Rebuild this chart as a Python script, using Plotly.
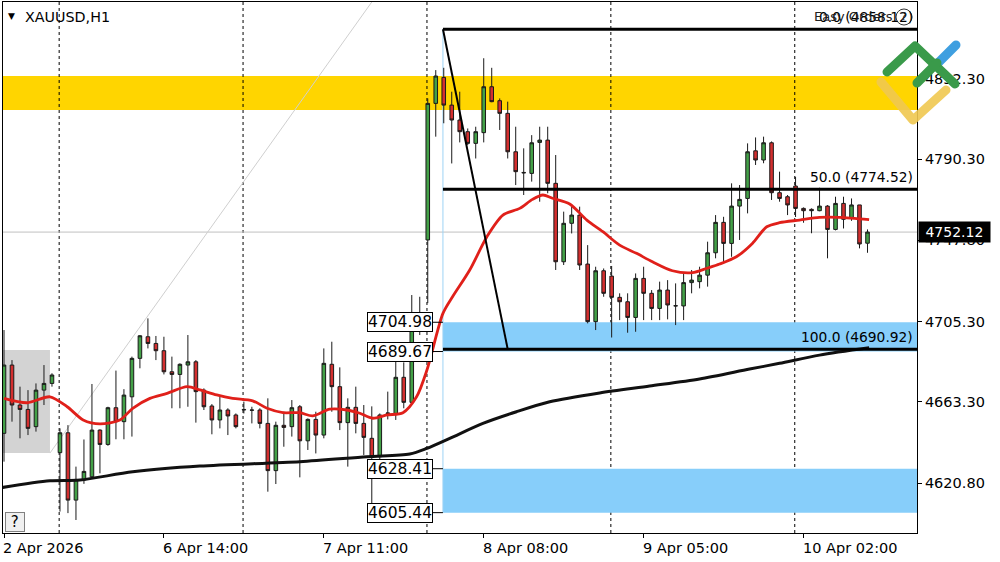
import base64
import plotly.graph_objects as go

# ---------------- data ----------------
bar_index = list(range(109))
opens = [4646.9, 4682.6, 4661.7, 4659.4, 4650.4, 4669.5, 4673.0,
         4636.8, 4647.2, 4612.0, 4622.5, 4624.2, 4648.6, 4641.1, 4660.3, 4653.0, 4666.0, 4686.1, 4697.4, 4693.9,
         4690.1, 4679.1, 4677.7, 4682.6, 4684.3, 4669.5, 4661.2, 4653.9, 4659.1, 4656.5,
         4659.4, 4659.1, 4659.1, 4652.1, 4627.4, 4651.1, 4650.4, 4660.8, 4643.0, 4654.2, 4646.0, 4683.0, 4671.3,
         4652.5, 4660.5, 4652.1, 4644.3, 4634.7, 4657.3, 4657.3, 4676.2, 4663.1, 4702.6,
         4748.0, 4819.4, 4833.0, 4818.5, 4810.7, 4804.6, 4798.5, 4804.1, 4828.1, 4820.8, 4814.2, 4794.1, 4783.3,
         4782.8, 4799.0, 4800.2, 4777.6, 4736.6, 4756.7, 4761.0, 4735.4, 4705.3, 4731.9,
         4729.1, 4718.0, 4715.7, 4707.5, 4727.9, 4720.1, 4712.2, 4721.8, 4713.5, 4713.5, 4725.7, 4726.2, 4729.6,
         4741.3, 4757.2, 4746.2, 4765.7, 4769.7, 4794.6, 4789.8, 4798.8, 4772.7, 4770.6,
         4776.2, 4764.5, 4764.0, 4763.3, 4765.7, 4753.5, 4767.1, 4759.7, 4766.3, 4746.3]
highs = [4700.9, 4685.2, 4671.3, 4669.5, 4673.0, 4682.6, 4678.3,
         4649.5, 4651.2, 4629.5, 4643.7, 4672.7, 4649.0, 4660.8, 4679.7, 4670.0, 4687.0, 4698.3, 4707.0, 4697.8,
         4697.4, 4687.0, 4683.5, 4698.3, 4685.2, 4670.4, 4662.2, 4666.9, 4660.0, 4657.3,
         4663.5, 4660.8, 4660.0, 4665.2, 4653.0, 4658.2, 4664.3, 4661.7, 4654.7, 4658.2, 4691.3, 4694.8, 4681.4,
         4665.2, 4671.3, 4661.7, 4661.0, 4657.3, 4668.7, 4687.0, 4684.0, 4719.2, 4718.3,
         4822.0, 4836.8, 4838.0, 4825.5, 4825.5, 4806.3, 4807.2, 4843.0, 4838.0, 4822.0, 4820.3, 4807.2, 4795.9,
         4802.8, 4807.2, 4807.2, 4792.4, 4762.8, 4765.4, 4765.4, 4745.3, 4734.0, 4733.1,
         4734.4, 4720.1, 4720.1, 4730.5, 4734.0, 4721.8, 4726.2, 4727.0, 4725.3, 4730.5, 4732.3, 4734.0, 4747.1,
         4761.0, 4760.1, 4777.6, 4776.7, 4798.5, 4801.6, 4802.0, 4799.5, 4783.7, 4771.5,
         4781.0, 4765.0, 4764.5, 4775.3, 4766.2, 4770.6, 4770.6, 4769.7, 4766.3, 4753.5]
lows = [4632.1, 4653.0, 4644.3, 4646.0, 4647.8, 4661.7, 4671.3,
        4606.0, 4605.2, 4601.6, 4620.5, 4623.4, 4626.0, 4640.4, 4643.8, 4643.8, 4645.2, 4680.9, 4691.3, 4685.2,
        4677.7, 4660.0, 4660.0, 4660.8, 4652.5, 4659.1, 4646.4, 4649.5, 4646.0, 4649.5,
        4657.3, 4652.1, 4649.5, 4616.4, 4620.4, 4639.9, 4645.2, 4623.9, 4638.2, 4636.4, 4644.3, 4658.2, 4648.6,
        4629.5, 4646.9, 4635.6, 4605.44, 4633.0, 4654.2, 4653.9, 4660.0, 4662.5, 4698.3,
        4715.0, 4802.0, 4809.0, 4788.0, 4799.0, 4797.6, 4790.6, 4799.0, 4820.0, 4805.5, 4790.6, 4776.7, 4771.5,
        4778.5, 4768.0, 4772.4, 4732.3, 4734.9, 4751.4, 4732.3, 4704.4, 4700.9, 4718.3,
        4697.0, 4706.1, 4699.5, 4700.0, 4706.1, 4706.1, 4706.1, 4706.5, 4703.5, 4706.1, 4720.1, 4722.7, 4723.6,
        4738.4, 4735.8, 4739.2, 4748.0, 4761.9, 4787.2, 4788.1, 4768.9, 4768.0, 4761.0,
        4760.0, 4757.0, 4751.5, 4763.0, 4738.4, 4753.0, 4754.0, 4758.0, 4743.6, 4741.3]
closes = [4682.6, 4661.7, 4659.4, 4649.5, 4669.5, 4673.0, 4677.4,
          4647.2, 4612.0, 4622.8, 4627.0, 4648.6, 4641.1, 4660.3, 4653.0, 4666.9, 4686.1, 4697.9, 4693.9, 4690.1,
          4679.1, 4677.7, 4683.0, 4684.3, 4668.7, 4660.8, 4653.9, 4659.1, 4656.0, 4650.4,
          4659.2, 4659.0, 4652.1, 4627.4, 4651.1, 4650.0, 4660.3, 4643.0, 4654.2, 4646.0, 4683.5, 4671.3, 4652.5,
          4660.5, 4652.1, 4644.8, 4634.7, 4656.5, 4657.5, 4676.2, 4663.1, 4701.2, 4706.5,
          4819.4, 4833.7, 4818.5, 4810.7, 4804.6, 4798.5, 4804.6, 4828.1, 4820.3, 4814.2, 4794.1, 4783.7, 4783.1,
          4798.8, 4800.2, 4777.6, 4736.6, 4756.7, 4761.0, 4734.9, 4705.3, 4731.9, 4720.1,
          4718.0, 4715.7, 4707.5, 4727.9, 4720.1, 4712.2, 4721.8, 4714.0, 4713.6, 4725.7, 4727.0, 4729.6, 4741.3,
          4757.2, 4746.2, 4765.7, 4769.2, 4794.1, 4789.8, 4798.8, 4772.7, 4769.7, 4766.3,
          4764.5, 4763.3, 4763.3, 4765.7, 4753.5, 4767.1, 4758.8, 4766.3, 4745.9, 4752.12]

# moving averages (bar index, price)
ma_fast_x = [0, 2.9, 5.75, 7.9, 9.9, 12, 14.5, 16.1, 18.25, 20.4, 22.9, 24.5, 26.6, 28.6, 31.1, 32.9, 34.9,
             37, 38.6, 40.75, 42.9, 44.5, 46.1, 47.9, 49.9, 51.6, 52.9, 54.9, 56.1, 58.25, 60.4, 62.4, 64.5,
             66.1, 67.4, 68.6, 70.75, 72.9, 74.9, 77, 79.1, 81.1, 83.6, 86.1, 87.9, 89.5, 91.6, 93.6, 95.4,
             97, 99.5, 102, 104.5, 108.2]
ma_fast_y = [4665.2, 4662.9, 4666.0, 4660.8, 4653.9, 4651.8, 4653.9, 4660.0, 4665.2, 4667.8, 4671.3, 4669.6,
             4667.0, 4665.2, 4663.9, 4660.0, 4657.7, 4657.7, 4656.0, 4659.5, 4659.1, 4657.4, 4654.8, 4656.5,
             4657.7, 4666.0, 4680.0, 4709.6, 4718.3, 4732.3, 4749.7, 4761.0, 4764.5, 4769.2, 4771.5, 4769.8,
             4766.8, 4758.4, 4752.3, 4745.3, 4741.0, 4736.6, 4731.9, 4730.9, 4733.2, 4735.4, 4739.2, 4746.2,
             4754.9, 4757.0, 4758.4, 4759.8, 4759.8, 4758.6]
ma_slow_x = [-0.2, 5.75, 9.5, 16.1, 24.5, 37, 45.4, 50.75, 52.9, 55.75, 59.9, 64.1, 68.25, 74.5, 80.75, 87,
             93.25, 97, 102, 108.2]
ma_slow_y = [4618.6, 4622.1, 4622.5, 4626.8, 4629.8, 4632.1, 4634.7, 4636.1, 4639.1, 4644.3, 4652.1, 4658.2,
             4663.4, 4668.0, 4671.6, 4675.3, 4680.5, 4683.5, 4687.8, 4691.6]

tick_index = [0, 20, 40, 60, 80, 100]
tick_labels = ["2 Apr 2026", "6 Apr 14:00", "7 Apr 11:00", "8 Apr 08:00", "9 Apr 05:00", "10 Apr 02:00"]
day_start_index = [7, 30, 53, 76, 99]

price_ticks = [4832.30, 4790.30, 4747.80, 4705.30, 4663.30, 4620.80]
price_tick_labels = ["4832.30", "4790.30", "4747.80", "4705.30", "4663.30", "4620.80"]

resistance_zone = [4815.9, 4833.7]
support_zones = [[4689.67, 4704.98], [4605.44, 4628.41]]
zone_labels = [4704.98, 4689.67, 4628.41, 4605.44]
fib_levels = ["0.0", "50.0", "100.0"]
fib_prices = [4858.12, 4774.52, 4690.92]
last_price = 4752.12
symbol = "XAUUSD,H1"

# ---------------- geometry helpers ----------------
W, H = 1000, 562
ML, MR, MT, MB = 3, 83, 2, 29
X_RANGE = [-0.125, 114.19]
Y_RANGE = [4594.8, 4872.4]
PW, PH = W - ML - MR, H - MT - MB


def px(x):
    return (x - ML) / PW


def py(y):
    return (H - MB - y) / PH


FONT = "DejaVu Sans"
fib_x0 = 54.9      # anchor bar of the fibonacci / zones
trend_x1 = 63.0
label_x = 53.6

fig = go.Figure()

fig.add_trace(go.Candlestick(
    x=bar_index, open=opens, high=highs, low=lows, close=closes,
    increasing=dict(fillcolor="#43A047", line=dict(color="#1a1a1a", width=1)),
    decreasing=dict(fillcolor="#D32F2F", line=dict(color="#1a1a1a", width=1)),
    whiskerwidth=0, hoverinfo="skip", showlegend=False,
))
fig.add_trace(go.Scatter(x=ma_slow_x, y=ma_slow_y, mode="lines",
                         line=dict(color="#111111", width=3, shape="spline", smoothing=0.8),
                         hoverinfo="skip", showlegend=False))
fig.add_trace(go.Scatter(x=ma_fast_x, y=ma_fast_y, mode="lines",
                         line=dict(color="#E0201A", width=2.8, shape="spline", smoothing=0.8),
                         hoverinfo="skip", showlegend=False))

shapes = []
# resistance zone (yellow)
shapes.append(dict(type="rect", xref="paper", yref="y", x0=0, x1=1,
                   y0=resistance_zone[0], y1=resistance_zone[1],
                   fillcolor="#FFD500", line=dict(width=0), layer="below"))
# support zones (blue)
for lo, hi in support_zones:
    shapes.append(dict(type="rect", xref="x", yref="y", x0=fib_x0, x1=X_RANGE[1], y0=lo, y1=hi,
                       fillcolor="#87CEFA", line=dict(width=0), layer="below"))
# grey selection rectangle + thin diagonal
shapes.append(dict(type="rect", xref="x", yref="y", x0=X_RANGE[0], x1=5.75, y0=4636.6, y1=4690.5,
                   fillcolor="#D3D3D3", line=dict(width=0), layer="below"))
shapes.append(dict(type="line", xref="x", yref="y", x0=5.75, y0=4636.6, x1=46.0, y1=Y_RANGE[1],
                   line=dict(color="#CFCFCF", width=1), layer="below"))
# day separators
for d in day_start_index:
    shapes.append(dict(type="line", xref="x", yref="paper", x0=d - 0.1, x1=d - 0.1, y0=0, y1=1,
                       line=dict(color="#000000", width=1, dash="3px,3px"), layer="below"))
# bid line
shapes.append(dict(type="line", xref="paper", yref="y", x0=0, x1=1, y0=last_price, y1=last_price,
                   line=dict(color="#C0C0C0", width=1), layer="below"))
# vertical light-blue line of the fib object
shapes.append(dict(type="line", xref="x", yref="y", x0=fib_x0, x1=fib_x0, y0=support_zones[1][0],
                   y1=fib_prices[0], line=dict(color="#9ED3F5", width=1), layer="below"))
# fib levels
for p in fib_prices:
    shapes.append(dict(type="line", xref="x", yref="y", x0=fib_x0, x1=X_RANGE[1], y0=p, y1=p,
                       line=dict(color="#000000", width=3), layer="above"))
# fib trend line
shapes.append(dict(type="line", xref="x", yref="y", x0=fib_x0, y0=fib_prices[0], x1=trend_x1, y1=fib_prices[2],
                   line=dict(color="#000000", width=2), layer="above"))
# leader lines of the price boxes
for p in zone_labels:
    shapes.append(dict(type="line", xref="x", yref="y", x0=label_x, x1=fib_x0, y0=p, y1=p,
                       line=dict(color="#000000", width=1), layer="above"))

annotations = []
# symbol
annotations.append(dict(xref="paper", yref="paper", x=px(6), y=py(16), xanchor="left", yanchor="middle",
                        text="▼", showarrow=False, font=dict(family=FONT, size=9, color="#000")))
annotations.append(dict(xref="paper", yref="paper", x=px(23), y=py(17), xanchor="left", yanchor="middle",
                        text=symbol, showarrow=False, font=dict(family=FONT, size=14.3, color="#000")))
# x labels (left aligned at tick)
for t, lab in zip(tick_index, tick_labels):
    annotations.append(dict(xref="x", yref="paper", x=t, y=0, yshift=-15, xshift=-3, xanchor="left",
                            yanchor="middle", text=lab, showarrow=False,
                            font=dict(family=FONT, size=14.5, color="#000")))
# price boxes
for p in zone_labels:
    annotations.append(dict(xref="x", yref="y", x=label_x, y=p, xanchor="right", yanchor="middle",
                            text=f"{p:.2f}", showarrow=False, bgcolor="#FFFFFF", bordercolor="#000000",
                            borderwidth=1, borderpad=0, font=dict(family=FONT, size=15.5, color="#000")))
# fib labels
for lvl, p in zip(fib_levels, fib_prices):
    annotations.append(dict(xref="paper", yref="y", x=1, xshift=-2, y=p, yshift=2, xanchor="right",
                            yanchor="bottom", text=f"{lvl} ({p:.2f})", showarrow=False,
                            font=dict(family=FONT, size=13.8, color="#000")))
annotations.append(dict(xref="paper", yref="paper", x=px(812), y=py(17), xanchor="left", yanchor="middle",
                        text="Easy Orders", showarrow=False, font=dict(family=FONT, size=13, color="#222")))
annotations.append(dict(xref="paper", yref="paper", x=px(904), y=py(17), xanchor="center", yanchor="middle",
                        text="?", showarrow=False, font=dict(family=FONT, size=11, color="#222")))
shapes.append(dict(type="circle", xref="paper", yref="paper", x0=px(896), x1=px(912), y0=py(25), y1=py(9),
                   line=dict(color="#333", width=1)))
# last price box
annotations.append(dict(xref="paper", yref="y", x=1, xshift=1, y=last_price, xanchor="left", yanchor="middle",
                        text="&nbsp;" + f"{last_price:.2f}" + "&nbsp;", showarrow=False, bgcolor="#000000",
                        borderpad=2, font=dict(family=FONT, size=14, color="#FFFFFF")))
# help box
annotations.append(dict(xref="paper", yref="paper", x=px(5), y=py(522), xanchor="left", yanchor="middle",
                        text="&nbsp;?&nbsp;", showarrow=False, bgcolor="#F0F0F0", bordercolor="#808080",
                        borderwidth=1, borderpad=0, font=dict(family=FONT, size=15, color="#000")))

# logo (svg), box covers x 875..965, y 35..130 px
svg = """<svg xmlns='http://www.w3.org/2000/svg' width='90' height='95' viewBox='0 0 90 95'>
<g fill='none' stroke-linecap='round' stroke-linejoin='round' stroke-width='9'>
<polyline points='6,47 38,85 71,55' stroke='#F0C850' stroke-opacity='0.9'/>
<line x1='62' y1='29' x2='81' y2='10' stroke='#3F9FE0'/>
<polyline points='12,37 40,11 80,49' stroke='#3A9A4A'/>
<line x1='42' y1='48' x2='62' y2='28' stroke='#3A9A4A'/>
</g></svg>"""
src = "data:image/svg+xml;base64," + base64.b64encode(svg.encode()).decode()
images = [dict(source=src, xref="paper", yref="paper", x=px(875), y=py(35), sizex=90 / PW, sizey=95 / PH,
               xanchor="left", yanchor="top", sizing="stretch", layer="above")]

fig.update_layout(
    width=W, height=H,
    margin=dict(l=ML, r=MR, t=MT, b=MB, pad=0, autoexpand=False),
    paper_bgcolor="#FFFFFF", plot_bgcolor="#FFFFFF",
    showlegend=False, boxgap=0.36,
    shapes=shapes, annotations=annotations, images=images,
    xaxis=dict(range=X_RANGE, showgrid=False, zeroline=False, showline=True, linecolor="#000", linewidth=1,
               mirror=True, ticks="outside", ticklen=4, tickcolor="#000", tickvals=tick_index,
               showticklabels=False, rangeslider=dict(visible=False), fixedrange=True),
    yaxis=dict(range=Y_RANGE, side="right", showgrid=False, zeroline=False, showline=True, linecolor="#000",
               linewidth=1, mirror=True, ticks="outside", ticklen=4, tickcolor="#000", tickvals=price_ticks,
               ticktext=price_tick_labels, tickfont=dict(family=FONT, size=14.5, color="#000"), fixedrange=True),
)

fig.write_html("out.html", config={"displayModeBar": False},
               post_script="document.body.style.margin='0';document.body.style.padding='0';")
